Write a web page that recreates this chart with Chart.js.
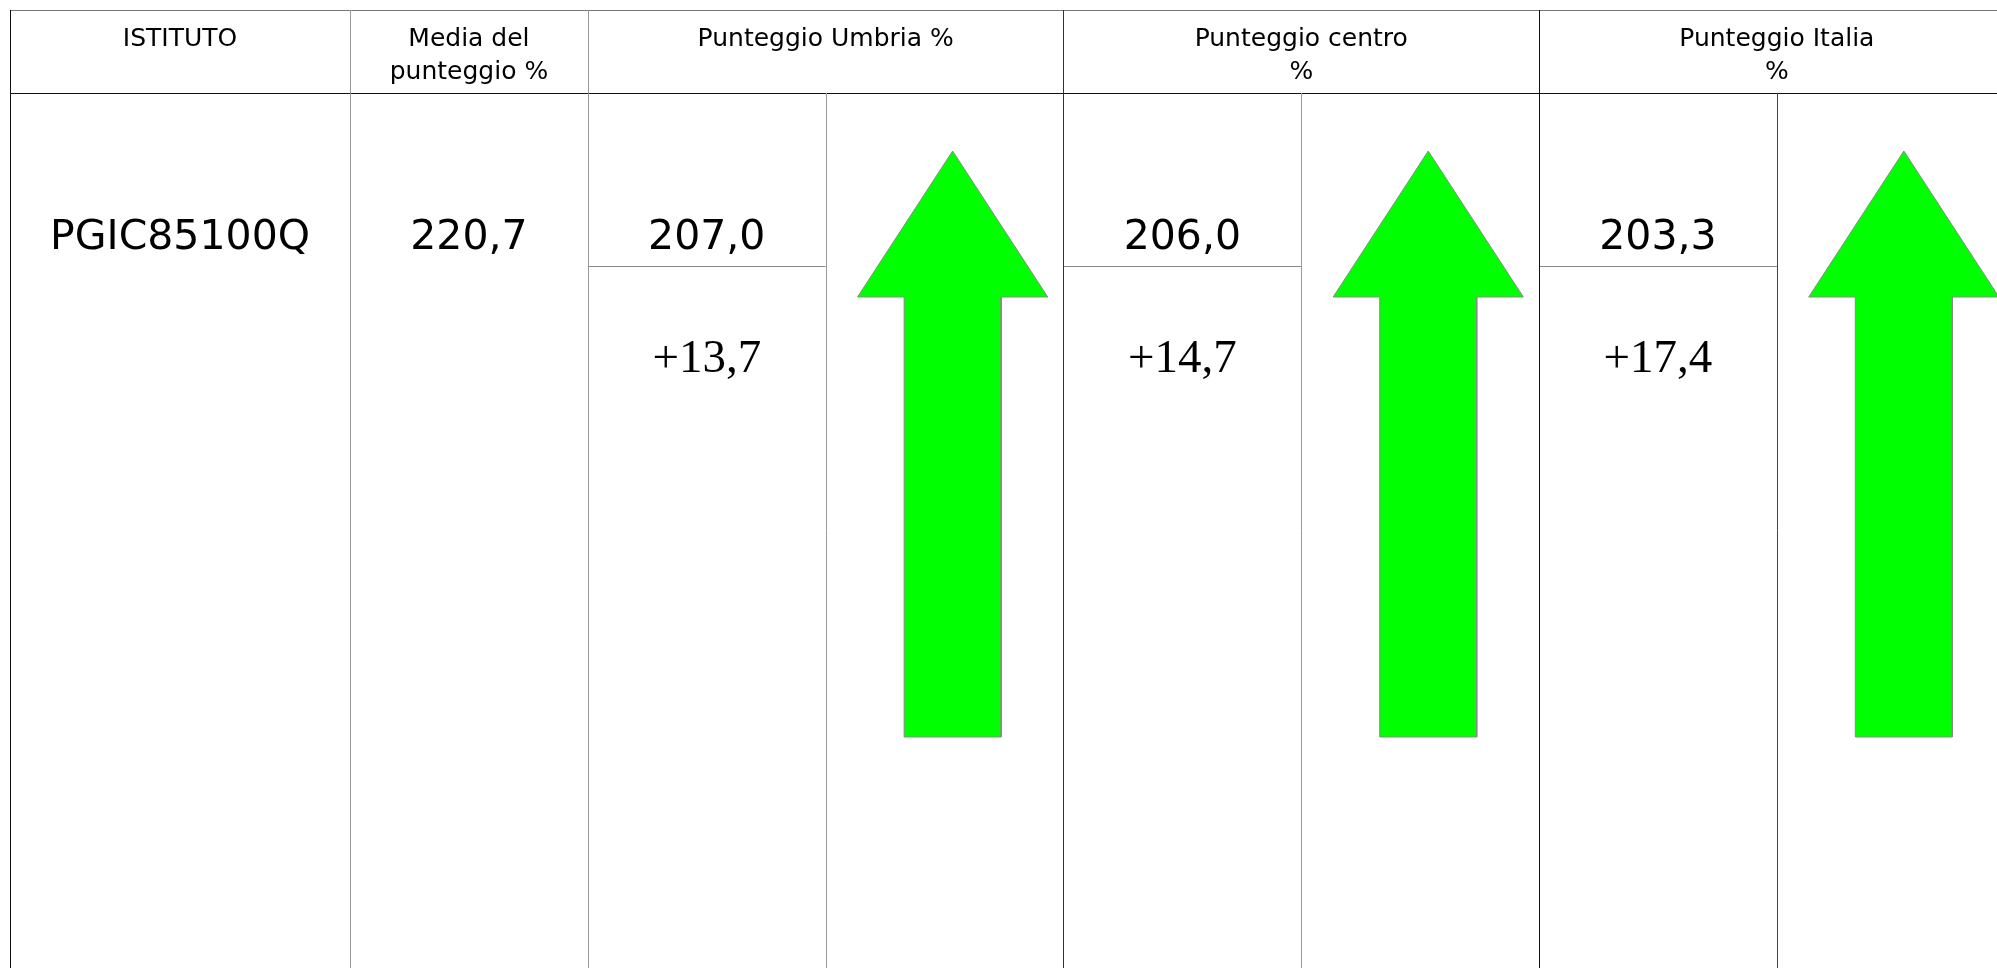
<!DOCTYPE html>
<html>
<head>
<meta charset="utf-8">
<script src="https://cdn.jsdelivr.net/npm/chart.js@4/dist/chart.umd.min.js"></script>
<style>
    html, body { margin: 0; padding: 0; background: #ffffff; }
    #scoreTable { display: block; }
</style>
</head>
<body>
<canvas id="scoreTable" width="1997" height="968"></canvas>
<script>
// Table data
const headerLabels = [
    ['ISTITUTO'],
    ['Media del', 'punteggio %'],
    ['Punteggio Umbria %'],
    ['Punteggio centro', '%'],
    ['Punteggio Italia', '%']
];
const institutes = ['PGIC85100Q'];
const meanScores = [220.7];
const areas = ['Umbria', 'centro', 'Italia'];
const areaScores = [207.0, 206.0, 203.3];
const differences = [13.7, 14.7, 17.4];

// Layout (x in column units, y in canvas units)
const COL_EDGES = [0, 1.43, 2.43, 3.43, 4.43, 5.43, 6.43, 7.43, 8.43];
const UNIT_PX = 237.8;
const LEFT_PX = 10;
const Y_TOP = 10;
const Y_HEAD = 93;
const Y_SUB = 266;
const Y_HEAD_LINE1 = 46;
const Y_HEAD_LINE2 = 79;
const Y_VALUE = 249;
const Y_DIFF = 372;
const ARROW = { tip: 151, base: 297, bottom: 737, head: 0.40, shaft: 0.204, offset: 0.034 };

const HEADER_FONT = '25px "DejaVu Sans", sans-serif';
const VALUE_FONT = '41px "DejaVu Sans", sans-serif';
const DIFF_FONT = '47px "Liberation Serif", "Times New Roman", serif';

function formatValue(v) {
    return v.toFixed(1).replace('.', ',');
}

function formatDiff(v) {
    return (v >= 0 ? '+' : '') + formatValue(v);
}

// Arrow outline for one area, pointing up when the school is above the area
function arrowPoints(areaIndex) {
    const left = COL_EDGES[3 + areaIndex * 2];
    const cx = left + 0.5 + ARROW.offset;
    const up = differences[areaIndex] >= 0;
    const tip = up ? ARROW.tip : ARROW.bottom;
    const tail = up ? ARROW.bottom : ARROW.tip;
    const base = up ? ARROW.base : ARROW.tip + ARROW.bottom - ARROW.base;
    return [
        { x: cx, y: tip },
        { x: cx + ARROW.head, y: base },
        { x: cx + ARROW.shaft, y: base },
        { x: cx + ARROW.shaft, y: tail },
        { x: cx - ARROW.shaft, y: tail },
        { x: cx - ARROW.shaft, y: base },
        { x: cx - ARROW.head, y: base },
        { x: cx, y: tip }
    ];
}

const arrowDatasets = areas.map((area, i) => ({
    label: 'Punteggio ' + area,
    data: arrowPoints(i),
    backgroundColor: differences[i] >= 0 ? '#00ff00' : '#ff0000',
    borderColor: '#8a8a8a',
    borderWidth: 1,
    pointRadius: 0,
    tension: 0,
    fill: 'shape'
}));

// Draw the table grid and the texts using the chart scales
const tablePlugin = {
    id: 'tablePlugin',
    beforeDatasetsDraw(chart) {
        const { ctx, scales: { x, y } } = chart;
        const hLine = (x0, x1, yv, color) => {
            ctx.strokeStyle = color;
            ctx.beginPath();
            ctx.moveTo(x.getPixelForValue(x0), Math.round(y.getPixelForValue(yv)) + 0.5);
            ctx.lineTo(x.getPixelForValue(x1), Math.round(y.getPixelForValue(yv)) + 0.5);
            ctx.stroke();
        };
        const vLine = (xv, y0, y1, color) => {
            const px = Math.round(x.getPixelForValue(xv)) + 0.5;
            ctx.strokeStyle = color;
            ctx.beginPath();
            ctx.moveTo(px, y.getPixelForValue(y0));
            ctx.lineTo(px, y.getPixelForValue(y1));
            ctx.stroke();
        };
        const end = COL_EDGES[COL_EDGES.length - 1];
        const yEnd = y.max;

        ctx.save();
        ctx.lineWidth = 1;
        hLine(0, end, Y_TOP, '#777777');
        hLine(0, end, Y_HEAD, '#111111');
        areas.forEach((a, i) => {
            hLine(COL_EDGES[2 + i * 2], COL_EDGES[3 + i * 2], Y_SUB, '#888888');
        });
        vLine(COL_EDGES[0], Y_TOP, yEnd, '#111111');
        vLine(COL_EDGES[1], Y_TOP, yEnd, '#999999');
        vLine(COL_EDGES[2], Y_TOP, yEnd, '#999999');
        vLine(COL_EDGES[3], Y_HEAD, yEnd, '#9a9a9a');
        vLine(COL_EDGES[4], Y_TOP, yEnd, '#333333');
        vLine(COL_EDGES[5], Y_HEAD, yEnd, '#999999');
        vLine(COL_EDGES[6], Y_TOP, yEnd, '#111111');
        vLine(COL_EDGES[7], Y_HEAD, yEnd, '#444444');
        ctx.restore();
    },
    afterDatasetsDraw(chart) {
        const { ctx, scales: { x, y } } = chart;
        const text = (str, xv, yv, font) => {
            ctx.font = font;
            ctx.fillText(str, x.getPixelForValue(xv), y.getPixelForValue(yv));
        };
        const spanCenter = (from, to) => (COL_EDGES[from] + COL_EDGES[to]) / 2;

        ctx.save();
        ctx.fillStyle = '#000000';
        ctx.textAlign = 'center';
        ctx.textBaseline = 'alphabetic';

        // Header row
        const headerSpans = [[0, 1], [1, 2], [2, 4], [4, 6], [6, 8]];
        headerLabels.forEach((lines, i) => {
            const cx = spanCenter(headerSpans[i][0], headerSpans[i][1]);
            lines.forEach((line, j) => {
                text(line, cx, j === 0 ? Y_HEAD_LINE1 : Y_HEAD_LINE2, HEADER_FONT);
            });
        });

        // Body
        text(institutes[0], spanCenter(0, 1), Y_VALUE, VALUE_FONT);
        text(formatValue(meanScores[0]), spanCenter(1, 2), Y_VALUE, VALUE_FONT);
        areas.forEach((a, i) => {
            const cx = spanCenter(2 + i * 2, 3 + i * 2);
            text(formatValue(areaScores[i]), cx, Y_VALUE, VALUE_FONT);
            text(formatDiff(differences[i]), cx, Y_DIFF, DIFF_FONT);
        });
        ctx.restore();
    }
};

const canvas = document.getElementById('scoreTable');
new Chart(canvas, {
    type: 'line',
    data: { datasets: arrowDatasets },
    options: {
        responsive: false,
        animation: false,
        layout: { padding: 0 },
        plugins: {
            legend: { display: false },
            tooltip: { enabled: false }
        },
        scales: {
            x: {
                type: 'linear',
                display: false,
                min: -LEFT_PX / UNIT_PX,
                max: (canvas.width - LEFT_PX) / UNIT_PX
            },
            y: {
                type: 'linear',
                display: false,
                reverse: true,
                min: 0,
                max: canvas.height
            }
        }
    },
    plugins: [tablePlugin]
});
</script>
</body>
</html>
